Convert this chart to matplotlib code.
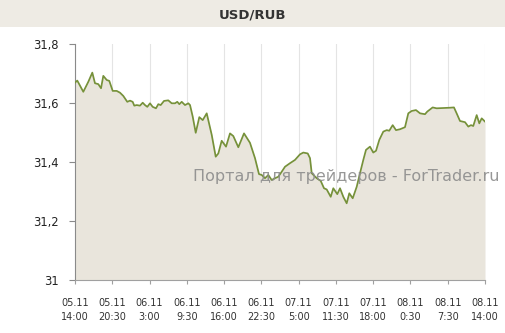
import matplotlib
matplotlib.use("Agg")
import matplotlib.pyplot as plt
from matplotlib.patches import Rectangle

# hours since 05.11 14:00
hours = [0.0, 0.40, 1.46, 2.34, 3.04, 3.51, 4.09, 4.57, 4.97, 5.57, 6.02, 6.62, 7.32, 7.90, 8.48,
         9.18, 9.66, 10.13, 10.41, 10.84, 11.41, 11.89, 12.29, 12.70, 13.17, 13.64, 14.22, 14.63,
         15.05, 15.63, 16.38, 16.98, 17.56, 17.96, 18.32, 18.74, 19.32, 19.90, 20.20, 20.67, 21.20,
         21.83, 22.43, 23.13, 24.01, 24.71, 25.17, 25.76, 26.52, 27.22, 27.80, 28.68, 29.68, 30.73,
         31.61, 32.31, 32.79, 33.37, 33.95, 34.54, 35.12, 35.70, 36.30, 36.88, 37.76, 38.63, 39.51,
         40.09, 40.87, 41.27, 41.57, 42.45, 43.15, 43.73, 44.20, 44.91, 45.36, 46.06, 46.54, 47.12,
         47.71, 48.17, 48.77, 49.47, 50.05, 50.63, 51.10, 51.80, 52.38, 52.86, 53.44, 54.14, 54.74,
         55.19, 55.79, 56.37, 57.07, 57.95, 58.53, 59.13, 59.88, 60.59, 61.46, 61.87, 62.81, 63.51,
         64.67, 65.85, 66.55, 67.02, 67.61, 68.49, 69.07, 69.54, 69.94, 70.54, 71.00, 71.42, 72.0]
rate = [31.669, 31.676, 31.638, 31.672, 31.703, 31.667, 31.664, 31.650, 31.692, 31.678, 31.675,
        31.641, 31.641, 31.635, 31.624, 31.604, 31.608, 31.604, 31.591, 31.593, 31.591, 31.601,
        31.593, 31.587, 31.599, 31.587, 31.582, 31.596, 31.593, 31.607, 31.609, 31.599, 31.599,
        31.604, 31.596, 31.604, 31.593, 31.599, 31.593, 31.554, 31.499, 31.552, 31.542, 31.565,
        31.492, 31.418, 31.429, 31.472, 31.452, 31.497, 31.488, 31.450, 31.497, 31.465, 31.413,
        31.359, 31.356, 31.345, 31.356, 31.339, 31.345, 31.350, 31.367, 31.384, 31.396, 31.407,
        31.426, 31.432, 31.429, 31.413, 31.362, 31.345, 31.336, 31.311, 31.307, 31.282, 31.311,
        31.291, 31.311, 31.282, 31.260, 31.294, 31.277, 31.316, 31.362, 31.407, 31.441, 31.452,
        31.432, 31.438, 31.475, 31.503, 31.508, 31.506, 31.525, 31.508, 31.511, 31.518, 31.565,
        31.573, 31.576, 31.565, 31.562, 31.571, 31.585, 31.582, 31.583, 31.584, 31.585, 31.565,
        31.539, 31.535, 31.520, 31.525, 31.522, 31.559, 31.531, 31.548, 31.537]

x_labels = ["05.11\n14:00", "05.11\n20:30", "06.11\n3:00", "06.11\n9:30", "06.11\n16:00",
            "06.11\n22:30", "07.11\n5:00", "07.11\n11:30", "07.11\n18:00", "08.11\n0:30",
            "08.11\n7:30", "08.11\n14:00"]
y_ticks = [31.0, 31.2, 31.4, 31.6, 31.8]
y_labels = ["31", "31,2", "31,4", "31,6", "31,8"]
title = "USD/RUB"
watermark = "Портал для трейдеров - ForTrader.ru"

W, H = 506, 333
fig = plt.figure(figsize=(W / 100, H / 100), dpi=100)
fig.patch.set_facecolor("white")
fig.patches.append(Rectangle((0, 1 - 27 / H), 1, 27 / H, transform=fig.transFigure,
                             facecolor="#eeebe4", edgecolor="none", zorder=0))
fig.text(253 / W, 1 - 15 / H, title, ha="center", va="center", fontsize=9.5,
         fontweight="bold", color="#333333")

ax = fig.add_axes([75 / W, 53 / H, 410 / W, 236 / H])
ax.set_facecolor("white")
total = hours[-1]
x_ticks = [total * i / (len(x_labels) - 1) for i in range(len(x_labels))]

ax.fill_between(hours, y_ticks[0], rate, color="#e9e5dc", lw=0, zorder=2)
ax.plot(hours, rate, color="#76913a", lw=1.25, zorder=3)

ax.set_xlim(0, total)
ax.set_ylim(y_ticks[0], y_ticks[-1])
ax.set_xticks(x_ticks)
ax.set_xticklabels(x_labels, fontsize=7, color="#333333", linespacing=1.45)
ax.set_yticks(y_ticks)
ax.set_yticklabels(y_labels, fontsize=8.3, color="#222222")
ax.grid(axis="x", color="#e4e4e4", lw=0.8, zorder=1)
ax.set_axisbelow(True)
for s in ["top", "right"]:
    ax.spines[s].set_visible(False)
ax.spines["left"].set_color("#8a8a8a")
ax.spines["bottom"].set_color("#a0a0a0")
ax.tick_params(axis="x", length=3, color="#a0a0a0", pad=10)
ax.tick_params(axis="y", length=4, color="#8a8a8a", pad=8)

fig.text(0.684, 1 - 177 / H, watermark, ha="center", va="center", fontsize=11.5,
         color="#8c8c8c", alpha=0.9, zorder=10)

fig.savefig("out.png", dpi=100)
